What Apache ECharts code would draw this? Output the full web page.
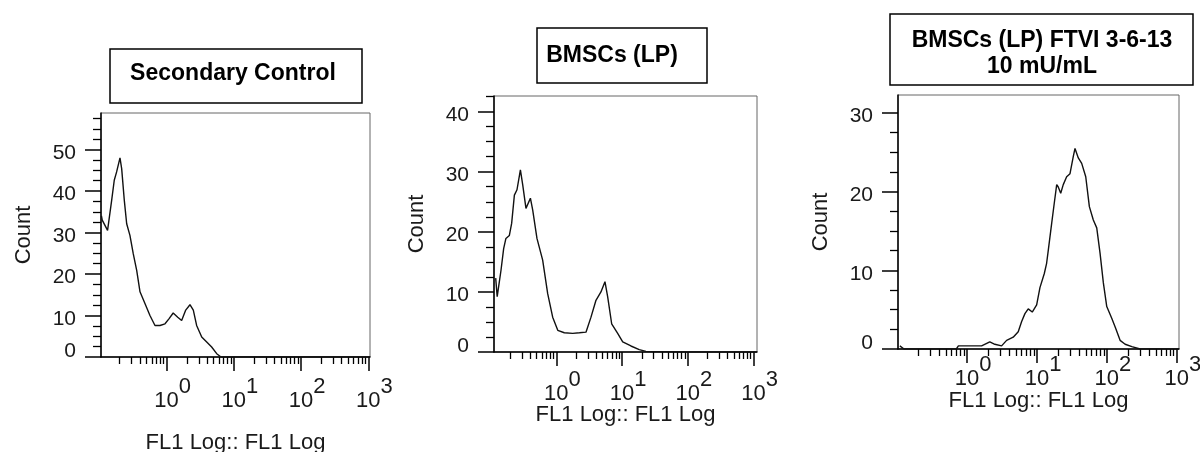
<!DOCTYPE html>
<html><head><meta charset="utf-8">
<script src="https://cdn.jsdelivr.net/npm/echarts@6/dist/echarts.min.js"></script>
<style>html,body{margin:0;padding:0;background:#fff}#c{width:1200px;height:452px}</style>
</head><body><div id="c"></div>
<script>
// ---------- data ----------
const titles = ['Secondary Control', 'BMSCs (LP)', 'BMSCs (LP) FTVI 3-6-13\n10 mU/mL'];
const xAxisName = 'FL1 Log:: FL1 Log';
const yAxisName = 'Count';
const xTickValues = [1, 10, 100, 1000];
const xMinorDecades = [0.1, 1, 10, 100];
const xMinorMultipliers = [2, 3, 4, 5, 6, 7, 8, 9];
const yTickValues1 = [0, 10, 20, 30, 40, 50];
const yTickValues2 = [0, 10, 20, 30, 40];
const yTickValues3 = [0, 10, 20, 30];
const yMinorStep = 2.5;
const xMinValues = [0.1054, 0.1127, 0.1026];
const xMaxValues = [1059, 1122, 1072];
const yMaxValues = [58.8, 42.6, 32.3];

// Panel 1: Secondary Control
const p1X = [0.107, 0.110, 0.132, 0.152, 0.166, 0.180, 0.202, 0.214, 0.234, 0.254, 0.284, 0.318, 0.358, 0.401, 0.475, 0.564, 0.670, 0.795, 0.944, 1.08, 1.25, 1.46, 1.67, 1.92, 2.22, 2.49, 2.79, 3.32, 3.94, 4.67, 5.55, 6.43, 10, 100, 1059];
const p1Y = [34, 33, 30.5, 37.8, 42.6, 44.6, 48.0, 45.4, 37.8, 32.1, 29.3, 24.9, 20.9, 15.7, 12.9, 10.0, 7.6, 7.6, 8.0, 9.2, 10.6, 9.6, 8.8, 11.3, 12.6, 11.3, 7.6, 4.8, 3.6, 2.4, 0.8, 0, 0, 0, 0];
// Panel 2: BMSCs (LP)
const p2X = [0.1196, 0.126, 0.144, 0.158, 0.171, 0.193, 0.209, 0.230, 0.252, 0.284, 0.308, 0.345, 0.403, 0.437, 0.507, 0.619, 0.738, 0.879, 1.05, 1.32, 1.77, 2.24, 2.82, 3.36, 4.00, 4.76, 5.48, 6.02, 6.93, 8.55, 10.2, 13.6, 18.2, 23.0, 100, 1122];
const p2Y = [12.3, 9.2, 13.6, 17.2, 18.9, 19.4, 21.4, 26.1, 27.0, 30.3, 27.8, 23.9, 25.6, 23.6, 18.9, 15.3, 9.7, 5.8, 3.6, 3.2, 3.1, 3.2, 3.3, 5.8, 8.6, 10.0, 11.7, 9.2, 4.7, 3.1, 1.7, 1.0, 0.4, 0.1, 0, 0];
// Panel 3: BMSCs (LP) FTVI 3-6-13, 10 mU/mL
const p3X = [0.109, 0.115, 0.125, 0.70, 0.75, 1.61, 2.11, 2.49, 3.11, 3.67, 4.56, 5.38, 6.02, 6.71, 7.48, 8.54, 9.87, 11.0, 12.7, 13.7, 14.5, 16.2, 17.6, 19.1, 20.1, 21.8, 23.7, 26.5, 29.6, 33.0, 34.9, 38.9, 43.5, 49.7, 56.0, 63.8, 71.4, 79.6, 88.8, 99.3, 117, 131, 154, 182, 227, 298, 1072];
const p3Y = [0.4, 0.4, 0, 0, 0.4, 0.4, 0.9, 0.6, 0.4, 1.1, 1.5, 2.2, 3.5, 4.5, 5.1, 4.7, 5.6, 7.8, 9.6, 10.9, 12.6, 16.0, 18.5, 20.9, 20.6, 19.8, 20.9, 21.9, 22.3, 24.5, 25.5, 24.3, 23.6, 21.9, 18.1, 16.4, 15.4, 12.2, 8.4, 5.4, 3.9, 2.8, 1.1, 0.6, 0.3, 0, 0];

// ---------- layout ----------
const FONT = "'Liberation Sans', Arial, sans-serif";
const TXT = '#1a1a1a';
const grids = [
  {left: 101, top: 113, width: 269, height: 244},
  {left: 494, top: 96, width: 263, height: 256},
  {left: 898, top: 95, width: 281, height: 254}
];
const xNameGaps = [86, 63, 52];
const yNameGaps = [66, 66, 66];
const xLabelMargins = [26, 24, 12];

const panelsX = [p1X, p2X, p3X];
const panelsY = [p1Y, p2Y, p3Y];
const yTicks = [yTickValues1, yTickValues2, yTickValues3];

const xMinorValues = [];
xMinorDecades.forEach(d => xMinorMultipliers.forEach(m => xMinorValues.push(+(d * m).toPrecision(3))));

function yMinorValues(max) {
  const out = [];
  for (let v = yMinorStep; v <= max; v += yMinorStep) if (Math.abs(v % 10) > 1e-6) out.push(v);
  return out;
}

const xAxes = [], yAxes = [], series = [];
grids.forEach((g, i) => {
  xAxes.push({
    type: 'log', logBase: 10, gridIndex: i, min: xMinValues[i], max: xMaxValues[i], position: 'bottom',
    axisLine: {show: true, onZero: false, lineStyle: {color: '#000', width: 1.5}},
    axisTick: {show: true, customValues: xTickValues, length: 14, lineStyle: {color: '#000', width: 1.5}},
    axisLabel: {
      show: true, customValues: xTickValues, margin: xLabelMargins[i],
      formatter: v => '{b|10}{e|' + Math.round(Math.log10(v)) + '}',
      rich: {
        b: {fontFamily: FONT, fontSize: 22, color: TXT, lineHeight: 21, padding: [14, 0, 0, 12]},
        e: {fontFamily: FONT, fontSize: 22, color: TXT, lineHeight: 21, padding: [0, 0, 14, 0]}
      }
    },
    splitLine: {show: false},
    name: xAxisName, nameLocation: 'middle', nameGap: xNameGaps[i], nameMoveOverlap: false,
    nameTextStyle: {fontFamily: FONT, fontSize: 22, color: TXT, verticalAlign: 'middle'}
  });
  xAxes.push({
    type: 'log', logBase: 10, gridIndex: i, min: xMinValues[i], max: xMaxValues[i], position: 'bottom',
    axisLine: {show: false, onZero: false},
    axisTick: {show: true, customValues: xMinorValues, length: 7, lineStyle: {color: '#000', width: 1.3}},
    axisLabel: {show: false}, splitLine: {show: false}
  });
  yAxes.push({
    type: 'value', gridIndex: i, min: 0, max: yMaxValues[i], position: 'left',
    axisLine: {show: true, lineStyle: {color: '#000', width: 1.5}},
    axisTick: {show: true, customValues: yTicks[i], length: 16, lineStyle: {color: '#000', width: 1.5}},
    axisLabel: {
      show: true, customValues: yTicks[i], margin: 25, fontFamily: FONT, fontSize: 21, color: TXT,
      formatter: v => v === 0 ? '{z|0}' : '{n|' + v + '}',
      rich: {
        z: {fontFamily: FONT, fontSize: 21, color: TXT, padding: [0, 0, 12, 0]},
        n: {fontFamily: FONT, fontSize: 21, color: TXT, padding: [7, 0, 0, 0]}
      }
    },
    splitLine: {show: false},
    name: yAxisName, nameLocation: 'middle', nameRotate: 90, nameGap: yNameGaps[i],
    nameTextStyle: {fontFamily: FONT, fontSize: 22, color: TXT}
  });
  yAxes.push({
    type: 'value', gridIndex: i, min: 0, max: yMaxValues[i], position: 'left',
    axisLine: {show: false},
    axisTick: {show: true, customValues: yMinorValues(yMaxValues[i]), length: 8, lineStyle: {color: '#000', width: 1.3}},
    axisLabel: {show: false}, splitLine: {show: false}
  });
  series.push({
    type: 'line', xAxisIndex: i * 2, yAxisIndex: i * 2, showSymbol: false, silent: true,
    lineStyle: {color: '#111', width: 1.4}, animation: false,
    data: panelsX[i].map((x, k) => [x, panelsY[i][k]])
  });
});

const titleFont = s => 'bold ' + s + 'px ' + FONT;
const chart = echarts.init(document.getElementById('c'));
chart.setOption({
  animation: false,
  backgroundColor: '#fff',
  grid: grids.map(g => Object.assign({show: true, borderColor: '#666', borderWidth: 1, containLabel: false, outerBoundsMode: 'none'}, g)),
  xAxis: xAxes,
  yAxis: yAxes,
  series: series,
  graphic: [
    {type: 'rect', shape: {x: 110, y: 49, width: 252, height: 54}, style: {fill: '#fff', stroke: '#000', lineWidth: 1.5}},
    {type: 'text', x: 233, y: 74, style: {text: titles[0], font: titleFont(23), fill: '#000', textAlign: 'center', textVerticalAlign: 'middle', align: 'center', verticalAlign: 'middle'}},
    {type: 'rect', shape: {x: 537, y: 28, width: 170, height: 55}, style: {fill: '#fff', stroke: '#000', lineWidth: 1.5}},
    {type: 'text', x: 612, y: 56, style: {text: titles[1], font: titleFont(23), fill: '#000', textAlign: 'center', textVerticalAlign: 'middle', align: 'center', verticalAlign: 'middle'}},
    {type: 'rect', shape: {x: 890, y: 14, width: 303, height: 71}, style: {fill: '#fff', stroke: '#000', lineWidth: 1.5}},
    {type: 'text', x: 1042, y: 54, style: {text: titles[2], font: titleFont(23), lineHeight: 26, fill: '#000', textAlign: 'center', textVerticalAlign: 'middle', align: 'center', verticalAlign: 'middle'}}
  ]
});
</script>
</body></html>
